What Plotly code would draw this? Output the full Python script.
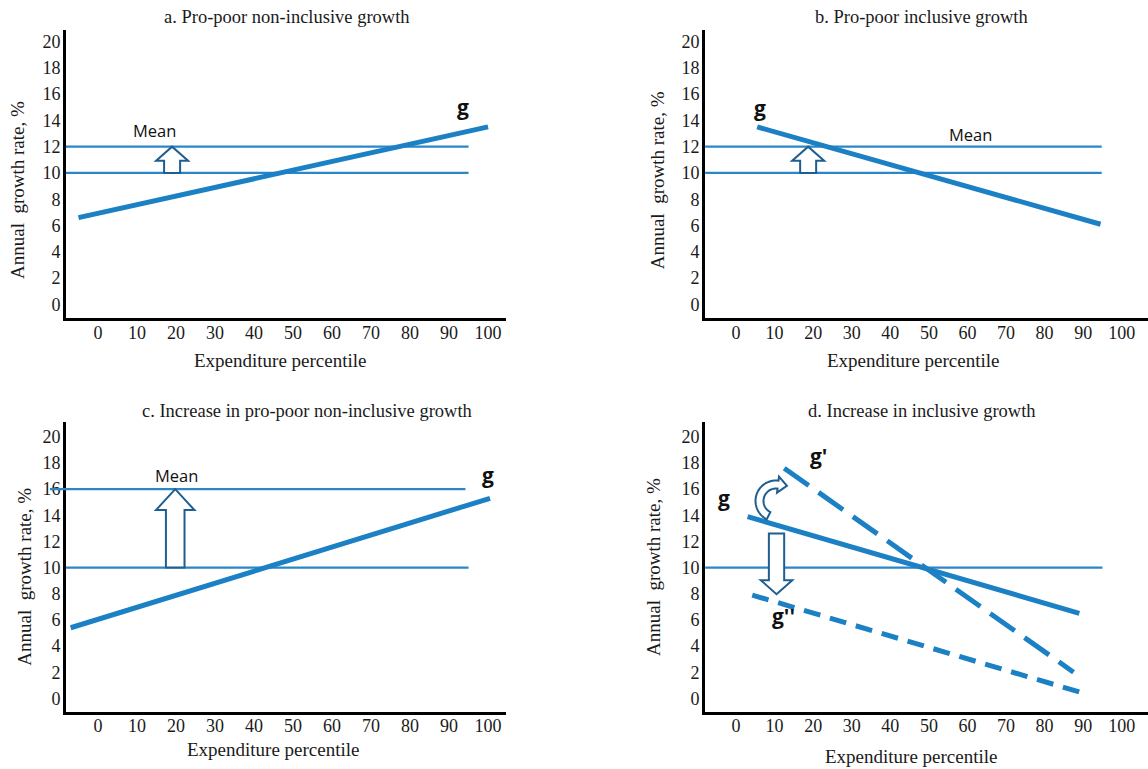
import numpy as np
import plotly.graph_objects as go

W, H = 1148, 769

# ---------------- data ----------------
pct_ticks = list(range(0, 101, 10))
rate_ticks = list(range(0, 21, 2))

# a. Pro-poor non-inclusive growth
a_g_x = [-5, 100]
a_g_y = [6.6, 13.5]
a_mean_before = 10
a_mean_after = 12
a_mean_x = [-8.2, 95]

# b. Pro-poor inclusive growth
b_g_x = [5.5, 94.5]
b_g_y = [13.5, 6.1]
b_mean_before = 10
b_mean_after = 12
b_mean_x = [-8.0, 94.8]

# c. Increase in pro-poor non-inclusive growth
c_g_x = [-7, 100.5]
c_g_y = [5.4, 15.3]
c_mean_before = 10
c_mean_after = 16
c_mean_x = [-8.2, 95]
c_mean_after_x = [-12.3, 94.2]

# d. Increase in inclusive growth
d_g_x = [3, 89]
d_g_y = [13.9, 6.5]
d_g1_x = [12.5, 87.5]      # g'
d_g1_y = [17.6, 2.0]
d_g2_x = [4.2, 90]         # g''
d_g2_y = [7.9, 0.4]
d_mean = 10
d_mean_x = [-8.0, 95]

titles = ["a. Pro-poor non-inclusive growth", "b. Pro-poor inclusive growth",
          "c. Increase in pro-poor non-inclusive growth", "d. Increase in inclusive growth"]
x_title = "Expenditure percentile"
y_title = "Annual  growth rate, %"

# ---------------- styling ----------------
LINE_BLUE = "#1c80c4"
MEAN_BLUE = "#2a86c6"
ARROW_BLUE = "#1f5e90"
SERIF = "Liberation Serif, Times New Roman, serif"
SANS = "Open Sans, sans-serif"
TXT = "#1a1a1a"

# subplot frames in pixels: (left, right, top, bottom)
frames = {
    1: (66, 506, 30, 318),
    2: (705, 1148, 30, 318),
    3: (66, 506, 422.3, 711.7),
    4: (705, 1148, 422.3, 711.7),
}
xranges = {1: [-8.2, 104.6], 2: [-8.04, 106.8], 3: [-8.2, 104.6], 4: [-8.04, 106.8]}
yranges = {1: [-1.03, 20.87], 2: [-1.03, 20.87], 3: [-1.02, 21.11], 4: [-1.02, 21.11]}


def scale(k):
    l, r, t, b = frames[k]
    sx = (r - l) / (xranges[k][1] - xranges[k][0])
    sy = (b - t) / (yranges[k][1] - yranges[k][0])
    return sx, sy


def to_data(k, px, py):
    l, r, t, b = frames[k]
    sx, sy = scale(k)
    return xranges[k][0] + (px - l) / sx, yranges[k][0] + (b - py) / sy


def ref(k):
    return ("x", "y") if k == 1 else (f"x{k}", f"y{k}")


fig = go.Figure()

for k in frames:
    l, r, t, b = frames[k]
    xa = "xaxis" if k == 1 else f"xaxis{k}"
    ya = "yaxis" if k == 1 else f"yaxis{k}"
    xr, yr = ref(k)
    fig.layout[xa] = dict(
        domain=[l / W, r / W], anchor=yr, range=xranges[k],
        showline=True, linecolor="black", linewidth=3, showgrid=False, zeroline=False,
        ticks="", tickmode="array", tickvals=pct_ticks, ticktext=[str(v) for v in pct_ticks],
        tickfont=dict(family=SERIF, size=18, color=TXT), ticklabelstandoff=-4,
    )
    fig.layout[ya] = dict(
        domain=[1 - b / H, 1 - t / H], anchor=xr, range=yranges[k],
        showline=True, linecolor="black", linewidth=3, showgrid=False, zeroline=False,
        ticks="", tickmode="array", tickvals=rate_ticks, ticktext=[str(v) for v in rate_ticks],
        tickfont=dict(family=SERIF, size=18, color=TXT), ticklabelstandoff=-1,
    )


def add_line(k, xs, ys, width, color, dash="solid"):
    xr, yr = ref(k)
    fig.add_trace(go.Scatter(x=xs, y=ys, mode="lines", xaxis=xr, yaxis=yr,
                             line=dict(color=color, width=width, dash=dash),
                             hoverinfo="skip", showlegend=False))


def add_mean(k, level, xs):
    add_line(k, xs, [level, level], 2.2, MEAN_BLUE)


def block_arrow(k, xc, y0, y1, body_px, head_px, head_len_px):
    sx, sy = scale(k)
    bw, hw = body_px / 2 / sx, head_px / 2 / sx
    d = 1 if y1 > y0 else -1
    yb = y1 - d * head_len_px / sy
    pts = [(xc - bw, y0), (xc - bw, yb), (xc - hw, yb), (xc, y1),
           (xc + hw, yb), (xc + bw, yb), (xc + bw, y0)]
    path = "M " + " L ".join(f"{x:.4f},{y:.4f}" for x, y in pts) + " Z"
    xr, yr = ref(k)
    fig.add_shape(type="path", path=path, xref=xr, yref=yr, layer="above",
                  fillcolor="white", line=dict(color=ARROW_BLUE, width=2))


def curved_arrow(k, cx_px, cy_px, r_in, r_out, a0, a1, head_half, head_len):
    # hollow clockwise arc arrow, built in screen pixels then mapped to data
    th = np.radians(np.linspace(a0, a1, 40))
    outer = [(cx_px + r_out * np.cos(t), cy_px + r_out * np.sin(t)) for t in th]
    inner = [(cx_px + r_in * np.cos(t), cy_px + r_in * np.sin(t)) for t in th[::-1]]
    te = np.radians(a1)
    rm = (r_in + r_out) / 2
    ux, uy = np.cos(te), np.sin(te)           # radial direction
    tx, ty = -np.sin(te), np.cos(te)          # tangent (direction of travel)
    bx, by = cx_px + rm * ux, cy_px + rm * uy
    head = [(bx + head_half * ux, by + head_half * uy),
            (bx + head_len * tx, by + head_len * ty),
            (bx - head_half * ux, by - head_half * uy)]
    pts = outer + head + inner
    dpts = [to_data(k, px, py) for px, py in pts]
    path = "M " + " L ".join(f"{x:.4f},{y:.4f}" for x, y in dpts) + " Z"
    xr, yr = ref(k)
    fig.add_shape(type="path", path=path, xref=xr, yref=yr, layer="above",
                  fillcolor="white", line=dict(color=ARROW_BLUE, width=2))


def label(k, x, y, text, size=16.5, bold=False, yshift=0):
    xr, yr = ref(k)
    fig.add_annotation(x=x, y=y, xref=xr, yref=yr, text=f"<b>{text}</b>" if bold else text,
                       showarrow=False, xanchor="center", yanchor="middle", yshift=yshift,
                       font=dict(family=SANS, size=size, color="#111111"))


# ---- panel a ----
add_mean(1, a_mean_before, a_mean_x)
add_mean(1, a_mean_after, a_mean_x)
add_line(1, a_g_x, a_g_y, 5, LINE_BLUE)
block_arrow(1, 19, a_mean_before, a_mean_after, 16, 32, 14)
label(1, 14.6, 13.2, "Mean")
label(1, 93.7, 14.7, "g", size=21, bold=True, yshift=4)

# ---- panel b ----
add_mean(2, b_mean_before, b_mean_x)
add_mean(2, b_mean_after, b_mean_x)
add_line(2, b_g_x, b_g_y, 5, LINE_BLUE)
block_arrow(2, 18.7, b_mean_before, b_mean_after, 16, 32, 14)
label(2, 60.7, 12.9, "Mean")
label(2, 6.2, 14.66, "g", size=21, bold=True, yshift=4)

# ---- panel c ----
add_mean(3, c_mean_before, c_mean_x)
add_mean(3, c_mean_after, [xranges[3][0], c_mean_after_x[1]])
sx3, _ = scale(3)
fig.add_shape(type="line", xref="paper", yref="y3",
              x0=(frames[3][0] + (c_mean_after_x[0] - xranges[3][0]) * sx3) / W, x1=frames[3][0] / W,
              y0=c_mean_after, y1=c_mean_after, line=dict(color=MEAN_BLUE, width=2.2))
add_line(3, c_g_x, c_g_y, 5, LINE_BLUE)
block_arrow(3, 19.8, c_mean_before, c_mean_after, 18.6, 38.6, 21)
label(3, 20.2, 17.07, "Mean")
label(3, 100.1, 16.8, "g", size=21, bold=True, yshift=4)

# ---- panel d ----
add_mean(4, d_mean, d_mean_x)
add_line(4, d_g_x, d_g_y, 5, LINE_BLUE)
add_line(4, d_g1_x, d_g1_y, 5, LINE_BLUE, dash="30px,12px")
add_line(4, d_g2_x, d_g2_y, 5, LINE_BLUE, dash="17px,10px")
block_arrow(4, 10.5, 12.6, 7.97, 15.3, 31.6, 14)
curved_arrow(4, 776, 501, 12.5, 20.5, 117, 277, 8, 9)
label(4, -3.1, 15.0, "g", size=21, bold=True, yshift=4)
label(4, 21.5, 18.2, "g'", size=21, bold=True, yshift=4)
label(4, 12.3, 6.0, "g''", size=21, bold=True, yshift=4)

# ---- titles ----
def paper_text(px, py, text, angle=0, size=19):
    fig.add_annotation(x=px / W, y=1 - py / H, xref="paper", yref="paper", text=text,
                       showarrow=False, xanchor="center", yanchor="middle", textangle=angle,
                       font=dict(family=SERIF, size=size, color=TXT))


for (px, py), t in zip([(287, 17), (921.7, 17), (306.7, 410.7), (921.7, 410.7)], titles):
    paper_text(px, py, t, size=18.5)
for px, py in [(280, 360), (913, 360.7), (273, 749.3), (911.7, 756.7)]:
    paper_text(px, py, x_title)
for px, py in [(17, 190), (657.3, 180), (25, 576.7), (653.3, 566.7)]:
    paper_text(px, py, y_title, angle=-90)

fig.update_layout(width=W, height=H, margin=dict(l=0, r=0, t=0, b=0),
                  paper_bgcolor="white", plot_bgcolor="white", showlegend=False)

fig.write_html("out.html")
